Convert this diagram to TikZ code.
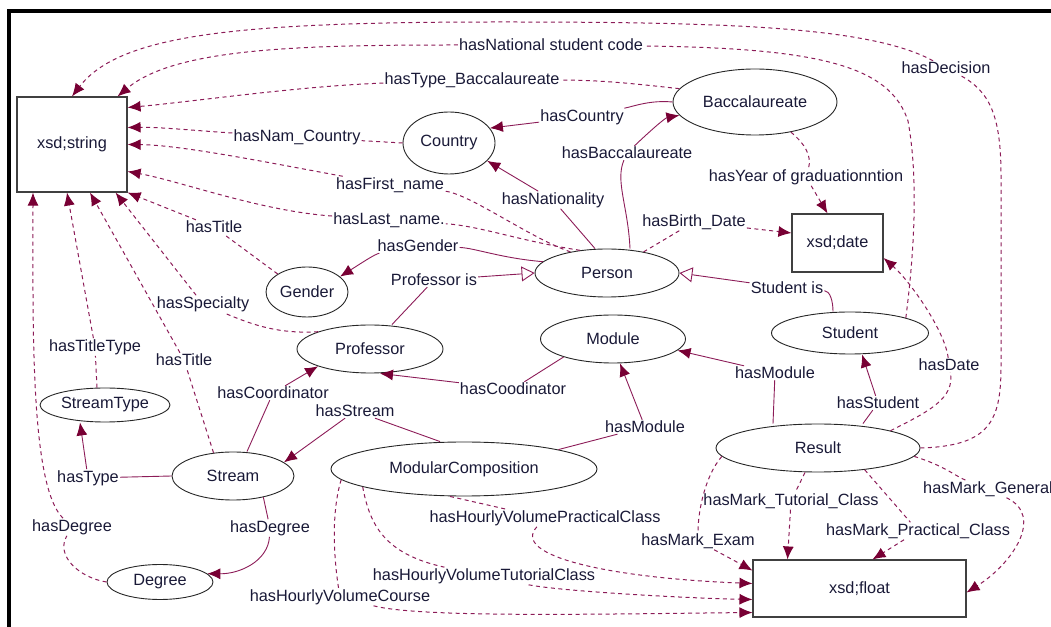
\documentclass[tikz,border=0pt]{standalone}
\usepackage{fontspec}
\setmainfont{Liberation Sans}
\usetikzlibrary{arrows.meta,shapes.geometric}

\definecolor{edgecol}{RGB}{140,28,88}
\definecolor{tipcol}{RGB}{120,0,52}
\definecolor{txtcol}{RGB}{25,25,55}

\tikzset{
	cls/.style={ellipse, draw=black!85, line width=0.9pt, inner sep=0pt, text=txtcol},
	dtype/.style={rectangle, draw=black!75, line width=1.1pt, inner sep=0pt, text=txtcol},
	lbl/.style={inner sep=1pt, text=txtcol},
	dp/.style={draw=edgecol, line width=1pt, dash pattern=on 4pt off 3.5pt, -{Latex[length=13pt,width=11pt,color=tipcol]}},
	op/.style={draw=edgecol, line width=0.9pt, -{Latex[length=13pt,width=11pt,color=tipcol]}},
	isa/.style={draw=edgecol, line width=0.9pt, -{Triangle[open,length=13pt,width=15pt]}}
}

\newcommand{\plabel}[3]{
	\node[lbl] (#1) at (#2) {#3};
}

\begin{document}
\begin{tikzpicture}[x=1pt, y=1pt, font=\fontsize{16.3pt}{19pt}\selectfont]
\useasboundingbox (0,0) rectangle (1051,626);
\draw[line width=4pt] (9,-5) -- (9,615) -- (1060,615);

\node[dtype, minimum width=110pt, minimum height=95pt] (string) at (72,481.5) {xsd;string};
\node[cls, minimum width=92pt, minimum height=62pt] (country) at (449,483) {Country};
\node[cls, minimum width=164pt, minimum height=66pt] (bacc) at (755,524) {Baccalaureate};
\node[dtype, minimum width=91pt, minimum height=58pt] (date) at (837.5,383) {xsd;date};
\node[cls, minimum width=144pt, minimum height=48pt] (person) at (607,353) {Person};
\node[cls, minimum width=82pt, minimum height=50pt] (gender) at (307,334) {Gender};
\node[cls, minimum width=146pt, minimum height=48pt] (professor) at (370,277) {Professor};
\node[cls, minimum width=145pt, minimum height=48pt] (module) at (613,287) {Module};
\node[cls, minimum width=157pt, minimum height=42pt] (student) at (850,293) {Student};
\node[cls, minimum width=130pt, minimum height=34pt] (streamtype) at (105,221) {StreamType};
\node[cls, minimum width=122pt, minimum height=48pt] (stream) at (233,150) {Stream};
\node[cls, minimum width=106pt, minimum height=35pt] (degree) at (160,44) {Degree};
\node[cls, minimum width=266pt, minimum height=54pt] (modcomp) at (464,157) {ModularComposition};
\node[cls, minimum width=204pt, minimum height=48pt] (result) at (818,178) {Result};
\node[dtype, minimum width=213pt, minimum height=57pt] (float) at (859.5,37.5) {xsd;float};

\plabel{lDecision}{946,558}{hasDecision}
\plabel{lNational}{551,581}{hasNational student code}
\plabel{lTypeBacc}{472,546}{hasType\_Baccalaureate}
\plabel{lNamCountry}{297,489}{hasNam\_Country}
\plabel{lFirst}{390,441}{hasFirst\_name}
\plabel{lLast}{389,406}{hasLast\_name.}
\plabel{lTitleG}{214,399}{hasTitle}
\plabel{lSpecialty}{203,322}{hasSpecialty}
\plabel{lTitleType}{95,279}{hasTitleType}
\plabel{lTitleS}{184,266}{hasTitle}
\plabel{lDegreeL}{72,99}{hasDegree}
\plabel{lCountry}{582,509}{hasCountry}
\plabel{lBacc}{627,473}{hasBaccalaureate}
\plabel{lNationality}{553,426}{hasNationality}
\plabel{lBirth}{694,404}{hasBirth\_Date}
\plabel{lYear}{806,449}{hasYear of graduationntion}
\plabel{lGender}{418,380}{hasGender}
\plabel{lProfIs}{434,346}{Professor is}
\plabel{lStudIs}{787,338}{Student is}
\plabel{lCoodinator}{513,237}{hasCoodinator}
\plabel{lCoordinator}{273,233}{hasCoordinator}
\plabel{lStream}{355,215}{hasStream}
\plabel{lType}{88,148}{hasType}
\plabel{lDegreeR}{270,98}{hasDegree}
\plabel{lModuleL}{645,199}{hasModule}
\plabel{lModuleU}{775,253}{hasModule}
\plabel{lStudent}{878,223}{hasStudent}
\plabel{lDate}{949,261}{hasDate}
\plabel{lTutorial}{791,125}{hasMark\_Tutorial\_Class}
\plabel{lPractical}{918,95}{hasMark\_Practical\_Class}
\plabel{lGeneral}{988,137}{hasMark\_General}
\plabel{lExam}{698,85}{hasMark\_Exam}
\plabel{lHVPractical}{545,108}{hasHourlyVolumePracticalClass}
\plabel{lHVTutorial}{484,50}{hasHourlyVolumeTutorialClass}
\plabel{lHVCourse}{340,29}{hasHourlyVolumeCourse}

\draw[dp] (result.east) .. controls (990,180) and (1001,205) .. (1001,260) -- (1001,450) .. controls (1001,510) and (990,535) .. (lDecision) .. controls (870,600) and (720,604) .. (500,604) .. controls (240,604) and (120,592) .. (string.north);
\draw[dp] (student.north east) .. controls (915,380) and (918,450) .. (908,505) .. controls (890,560) and (820,578) .. (lNational) .. controls (300,581) and (175,578) .. ([xshift=-10pt]string.north east);
\draw[dp] (bacc.170) .. controls (645,541) and (605,546) .. (lTypeBacc) .. controls (300,540) and (190,524) .. ([yshift=37pt]string.east);
\draw[dp] (country.west) -- (lNamCountry) .. controls (200,495) and (160,499) .. ([yshift=17pt]string.east);
\draw[dp] (person.150) .. controls (530,388) and (470,432) .. (lFirst) .. controls (260,465) and (180,481) .. (string.east);
\draw[dp] (person.140) .. controls (520,385) and (480,400) .. (lLast) .. controls (260,415) and (180,445) .. ([yshift=-27pt]string.east);
\draw[dp] (gender.north west) -- (lTitleG) -- (string.south east);
\draw[dp] (professor.north west) .. controls (280,292) and (255,300) .. (lSpecialty) -- ([xshift=-12pt]string.south east);
\draw[dp] ([xshift=-8pt]streamtype.north) -- (lTitleType) -- ([xshift=-5pt]string.south);
\draw[dp] (stream.130) -- (lTitleS) -- ([xshift=18pt]string.south);
\draw[dp] (degree.west) .. controls (80,48) and (55,70) .. (lDegreeL) .. controls (30,140) and (33,300) .. ([xshift=-39pt]string.south);

\draw[op] (bacc.west) .. controls (650,526) and (635,520) .. (lCountry) -- (country.20);
\draw[op] ([xshift=23pt]person.north) .. controls (628,420) and (615,445) .. (lBacc) .. controls (650,495) and (665,508) .. (bacc.190);
\draw[op] ([xshift=-12pt]person.north) -- (lNationality) -- (country.-25);
\draw[dp] (person.30) -- (lBirth) -- ([yshift=10pt]date.west);
\draw[dp] (bacc.-40) .. controls (805,482) and (812,470) .. (lYear) -- ([xshift=-10pt]date.north);
\draw[op] (person.170) .. controls (500,368) and (475,378) .. (lGender) .. controls (375,372) and (360,362) .. (gender.25);
\draw[isa] ([xshift=22pt]professor.north) -- (lProfIs) -- (person.west);
\draw[isa] ([xshift=-17pt]student.north) .. controls (833,325) and (830,335) .. (lStudIs) -- (person.east);
\draw[op] (module.200) -- (lCoodinator) -- ([xshift=10pt]professor.south);
\draw[op] ([xshift=14pt]stream.north) -- (lCoordinator) -- (professor.south west);
\draw[op] ([xshift=-24pt]modcomp.north) -- (lStream) -- (stream.15);
\draw[op] (stream.west) -- (lType) -- ([xshift=-25pt]streamtype.south);
\draw[op] (stream.-35) -- (lDegreeR) .. controls (268,65) and (240,52) .. (degree.10);
\draw[op] (modcomp.north east) -- (lModuleL) -- ([xshift=7pt]module.south);
\draw[op] ([xshift=-45pt]result.north) -- (lModuleU) -- (module.-10);
\draw[op] ([xshift=45pt]result.north) -- (lStudent) -- ([xshift=12pt]student.south);
\draw[dp] (result.north east) .. controls (930,215) and (955,228) .. (lDate) .. controls (945,295) and (910,345) .. ([yshift=-15pt]date.east);

\draw[dp] ([xshift=-13pt]result.south) -- (lTutorial) -- ([xshift=-72pt]float.north);
\draw[dp] (result.-25) -- (lPractical) -- ([xshift=13pt]float.north);
\draw[dp] (result.-5) .. controls (945,160) and (955,150) .. (lGeneral) .. controls (1045,110) and (1012,62) .. ([yshift=-4pt]float.east);
\draw[dp] (result.185) .. controls (705,150) and (698,115) .. (lExam) -- ([yshift=18pt]float.west);
\draw[dp] ([xshift=-14pt]modcomp.south) -- (lHVPractical) .. controls (510,70) and (610,48) .. ([yshift=5pt]float.west);
\draw[dp] (modcomp.190) .. controls (370,100) and (385,72) .. (lHVTutorial) .. controls (560,35) and (680,28) .. ([yshift=-11pt]float.west);
\draw[dp] (modcomp.185) .. controls (330,110) and (335,60) .. (lHVCourse) .. controls (420,8) and (600,12) .. ([yshift=-24pt]float.west);
\end{tikzpicture}
\end{document}
